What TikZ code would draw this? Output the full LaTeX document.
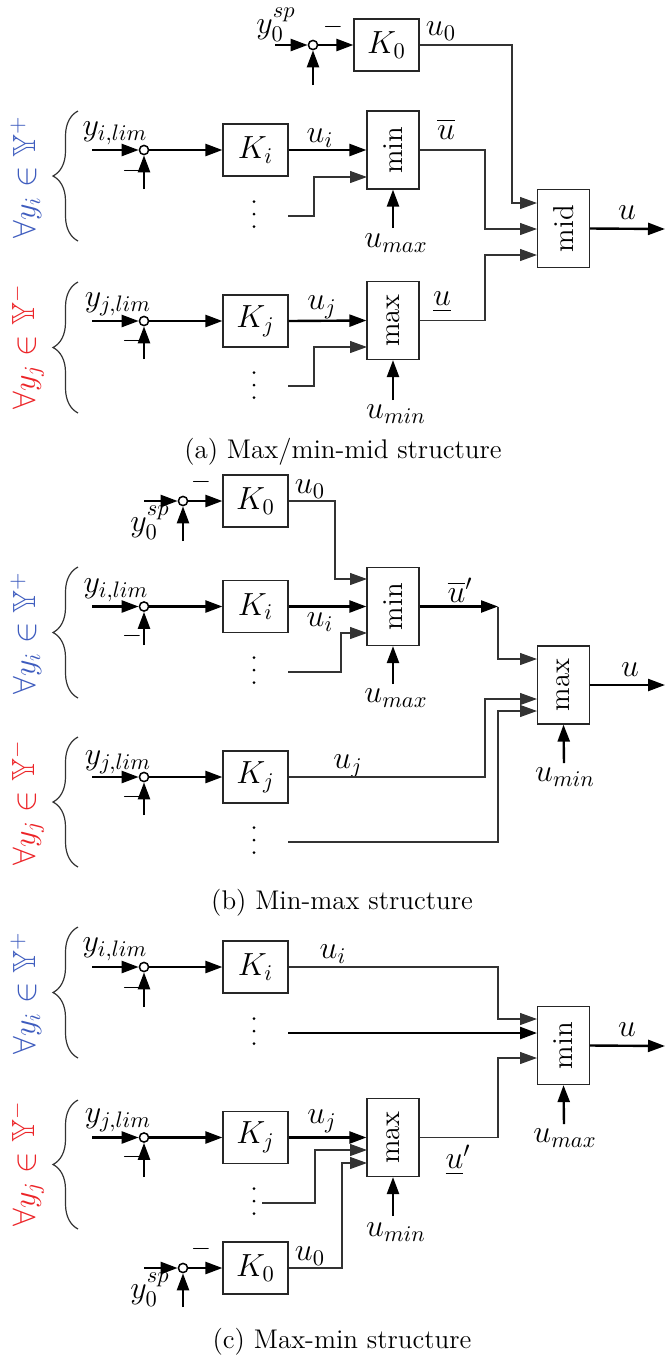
\RequirePackage{fix-cm}
\documentclass[tikz,border=0pt]{standalone}
\usepackage{amssymb}
\usepackage{graphicx}
\usetikzlibrary{arrows.meta,decorations.pathreplacing}
\definecolor{myblue}{RGB}{62,92,190}
\definecolor{myred}{RGB}{236,36,40}
\newcommand\threedots[2]{\foreach \dy in {-12.5,0,12.5}{\fill (#1,#2+\dy) circle[radius=0.75pt];}}
\newcommand\rtext[1]{\rotatebox{90}{\fontsize{14.4}{17}\selectfont #1}}
\begin{document}
\begin{tikzpicture}[x=0.5pt,y=-0.5pt,
 blk/.style={draw=black!85, line width=0.6pt, inner sep=0pt, font=\fontsize{16}{19}\selectfont},
 kbox/.style={blk, minimum width=32.5pt, minimum height=26pt},
 sbox/.style={blk, minimum width=26pt, minimum height=39pt},
 sumj/.style={circle, draw, line width=0.75pt, minimum size=4.6pt, inner sep=0pt},
 thk/.style={line width=1.2pt},
 thn/.style={line width=0.6pt, draw=black!80},
 arr/.style={-{Triangle[length=8.5pt,width=6pt]}},
 lbl/.style={font=\fontsize{16}{19}\selectfont, inner sep=0pt},
 mns/.style={font=\fontsize{13}{15}\selectfont, inner sep=0pt},
 capt/.style={font=\fontsize{13.5}{16}\selectfont, inner sep=0pt},
 brc/.style={thn, decorate, decoration={brace, amplitude=12.5pt}},
 setlbl/.style={font=\fontsize{16}{19}\selectfont, inner sep=0pt, rotate=90}
]
\useasboundingbox (0,0) rectangle (665,1356);

%% ================= (a) =================
% K0 branch
\node[kbox] (K0a) at (386.5,45) {$K_0$};
\node[sumj] (s0a) at (313,45) {};
\coordinate (s0ain) at (275,45);
\coordinate (s0abot) at (313,85);
\draw[thk,arr] (s0ain) -- (s0a.west);
\draw[thk,arr] (s0abot) -- (s0a.south);
\draw[thk,arr] (s0a.east) -- (K0a.west);
\node[lbl] (y0a) at (276,25) {$y_0^{sp}$};
\node[mns] (m0a) at (333,27) {$-$};
\node[lbl] (u0a) at (441,31) {$u_0$};
% i branch
\node[sbox] (mina) at (393,150) {\rtext{min}};
\node[kbox] (Kia) at (255.5,150) {$K_i$};
\node[sumj] (sia) at (144,150) {};
\coordinate (siain) at (92,150);
\coordinate (siabot) at (144,189);
\draw[thk,arr] (siain) -- (sia.west);
\draw[thk,arr] (siabot) -- (sia.south);
\draw[thk,arr] (sia.east) -- (Kia.west);
\draw[thk,arr] (Kia.east) -- (mina.west);
\node[lbl] (yia) at (115,133) {$y_{i,lim}$};
\node[mns] (mia) at (132,171) {$-$};
\node[lbl] (uia) at (320,138) {$u_i$};
\threedots{254}{214}
\coordinate (dia) at (288,216);
\coordinate (mina2) at (367,177);
\draw[thn,arr] (dia) -| (314,177) -- (mina2);
\coordinate (umaxa) at (393,228);
\draw[thk,arr] (umaxa) -- (mina.south);
\node[lbl] (umaxla) at (396,243) {$u_{max}$};
% mid
\node[sbox] (mida) at (563.5,228.5) {\rtext{mid}};
\coordinate (mida1) at (537,203);
\coordinate (mida2) at (537,229);
\coordinate (mida3) at (537,255);
\draw[thn,arr] (K0a.east) -| (512,203) -- (mida1);
\draw[thn,arr] (mina.east) -| (485,229) -- (mida2);
\node[lbl] (ubara) at (446,129) {$\overline{u}$};
\coordinate (outa) at (665,229);
\draw[thk,arr] (mida.east) -- (outa);
\node[lbl] (ua) at (627,213) {$u$};
% j branch
\node[sbox] (maxa) at (393,320.5) {\rtext{max}};
\node[kbox] (Kja) at (255.5,321) {$K_j$};
\node[sumj] (sja) at (144,321) {};
\coordinate (sjain) at (92,321);
\coordinate (sjabot) at (144,359);
\draw[thk,arr] (sjain) -- (sja.west);
\draw[thk,arr] (sjabot) -- (sja.south);
\draw[thk,arr] (sja.east) -- (Kja.west);
\draw[thk,arr] (Kja.east) -- (maxa.west);
\node[lbl] (yja) at (118,304) {$y_{j,lim}$};
\node[mns] (mja) at (132,341) {$-$};
\node[lbl] (uja) at (322,307) {$u_j$};
\threedots{254}{385}
\coordinate (dja) at (288,386);
\coordinate (maxa2) at (367,347);
\draw[thn,arr] (dja) -| (314,347) -- (maxa2);
\coordinate (umina) at (393,400);
\draw[thk,arr] (umina) -- (maxa.south);
\node[lbl] (uminla) at (396,414) {$u_{min}$};
\draw[thn,arr] (maxa.east) -| (485,255) -- (mida3);
\node[lbl] (ulowa) at (442,302) {$\underline{u}$};
% braces
\draw[brc] (78,241) -- (78,111);
\draw[brc] (78,413) -- (78,282);
\node[setlbl, text=myblue] (seta1) at (26,177) {$\forall y_i\in\mathbb{Y}^{+}$};
\node[setlbl, text=myred] (seta2) at (27,347) {$\forall y_j\in\mathbb{Y}^{-}$};
\node[capt] (capa) at (343,452) {(a) Max/min-mid structure};

%% ================= (b) =================
\node[kbox] (K0b) at (255.5,501) {$K_0$};
\node[sumj] (s0b) at (183,501) {};
\coordinate (s0bin) at (144,501);
\coordinate (s0bbot) at (183,541);
\draw[thk,arr] (s0bin) -- (s0b.west);
\draw[thk,arr] (s0bbot) -- (s0b.south);
\draw[thk,arr] (s0b.east) -- (K0b.west);
\node[mns] (m0b) at (201,482) {$-$};
\node[lbl] (y0b) at (150,523) {$y_0^{sp}$};
\node[lbl] (u0b) at (310,489) {$u_0$};
\node[sbox] (minb) at (393,606.5) {\rtext{min}};
\coordinate (minb1) at (367,579);
\coordinate (minb3) at (367,633);
\draw[thn,arr] (K0b.east) -| (335,579) -- (minb1);
\node[kbox] (Kib) at (255.5,606.5) {$K_i$};
\node[sumj] (sib) at (144,606.5) {};
\coordinate (sibin) at (92,606.5);
\coordinate (sibbot) at (144,645);
\draw[thk,arr] (sibin) -- (sib.west);
\draw[thk,arr] (sibbot) -- (sib.south);
\draw[thk,arr] (sib.east) -- (Kib.west);
\draw[thk,arr] (Kib.east) -- (minb.west);
\node[lbl] (yib) at (116,590) {$y_{i,lim}$};
\node[mns] (mib) at (132,636) {$-$};
\node[lbl] (uib) at (320,622) {$u_i$};
\threedots{254}{670}
\coordinate (dib) at (288,672);
\draw[thn,arr] (dib) -| (341,633) -- (minb3);
\coordinate (umaxb) at (393,684);
\draw[thk,arr] (umaxb) -- (minb.south);
\node[lbl] (umaxlb) at (396,698) {$u_{max}$};
\coordinate (cb) at (498,606.5);
\draw[thk,arr] (minb.east) -- (cb);
\node[lbl] (ubarb) at (460,590) {$\overline{u}'$};
\node[sbox] (maxb) at (563.5,685) {\rtext{max}};
\coordinate (maxb1) at (537,659);
\coordinate (maxb2) at (537,699);
\coordinate (maxb3) at (537,711);
\draw[thn,arr] (cb) |- (maxb1);
\node[kbox] (Kjb) at (255.5,777) {$K_j$};
\node[sumj] (sjb) at (144,777) {};
\coordinate (sjbin) at (92,777);
\coordinate (sjbbot) at (144,815);
\draw[thk,arr] (sjbin) -- (sjb.west);
\draw[thk,arr] (sjbbot) -- (sjb.south);
\draw[thk,arr] (sjb.east) -- (Kjb.west);
\node[lbl] (yjb) at (118,762) {$y_{j,lim}$};
\node[mns] (mjb) at (132,797) {$-$};
\node[lbl] (ujb) at (348,766) {$u_j$};
\draw[thn,arr] (Kjb.east) -| (485,699) -- (maxb2);
\threedots{254}{840}
\coordinate (djb) at (288,842);
\draw[thn,arr] (djb) -| (498,711) -- (maxb3);
\coordinate (uminb) at (564,763);
\draw[thk,arr] (uminb) -- (maxb.south);
\node[lbl] (uminlb) at (565,777) {$u_{min}$};
\coordinate (outb) at (665,685);
\draw[thk,arr] (maxb.east) -- (outb);
\node[lbl] (ub) at (630,670) {$u$};
\draw[brc] (78,698) -- (78,567);
\draw[brc] (78,867) -- (78,737);
\node[setlbl, text=myblue] (setb1) at (26,633) {$\forall y_i\in\mathbb{Y}^{+}$};
\node[setlbl, text=myred] (setb2) at (27,803) {$\forall y_j\in\mathbb{Y}^{-}$};
\node[capt] (capb) at (342,903) {(b) Min-max structure};

%% ================= (c) =================
\node[kbox] (Kic) at (255.5,967) {$K_i$};
\node[sumj] (sic) at (144,967) {};
\coordinate (sicin) at (92,967);
\coordinate (sicbot) at (144,1007);
\draw[thk,arr] (sicin) -- (sic.west);
\draw[thk,arr] (sicbot) -- (sic.south);
\draw[thk,arr] (sic.east) -- (Kic.west);
\node[lbl] (yic) at (115,949) {$y_{i,lim}$};
\node[mns] (mic) at (132,988) {$-$};
\node[lbl] (uic) at (333,954) {$u_i$};
\node[sbox] (minc) at (563.5,1045.5) {\rtext{min}};
\coordinate (minc1) at (537,1019);
\coordinate (minc2) at (537,1033);
\coordinate (minc3) at (537,1058);
\draw[thn,arr] (Kic.east) -| (498,1019) -- (minc1);
\threedots{254}{1031}
\coordinate (dic) at (288,1033);
\draw[thk,arr] (dic) -- (minc2);
\coordinate (outc) at (665,1046);
\draw[thk,arr] (minc.east) -- (outc);
\node[lbl] (uc) at (627,1030) {$u$};
\coordinate (umaxc) at (564,1124);
\draw[thk,arr] (umaxc) -- (minc.south);
\node[lbl] (umaxlc) at (565,1138) {$u_{max}$};
\node[sbox] (maxc) at (393,1137.5) {\rtext{max}};
\coordinate (maxc2) at (367,1150);
\coordinate (maxc3) at (367,1163);
\node[kbox] (Kjc) at (255.5,1137.5) {$K_j$};
\node[sumj] (sjc) at (144,1137.5) {};
\coordinate (sjcin) at (92,1137.5);
\coordinate (sjcbot) at (144,1177);
\draw[thk,arr] (sjcin) -- (sjc.west);
\draw[thk,arr] (sjcbot) -- (sjc.south);
\draw[thk,arr] (sjc.east) -- (Kjc.west);
\draw[thk,arr] (Kjc.east) -- (maxc.west);
\node[lbl] (yjc) at (118,1120) {$y_{j,lim}$};
\node[mns] (mjc) at (132,1157) {$-$};
\node[lbl] (ujc) at (322,1121) {$u_j$};
\threedots{254}{1201}
\coordinate (djc) at (262,1203);
\draw[thn,arr] (djc) -| (315,1150) -- (maxc2);
\node[kbox] (K0c) at (255.5,1268) {$K_0$};
\node[sumj] (s0c) at (183,1268) {};
\coordinate (s0cin) at (144,1268);
\coordinate (s0cbot) at (183,1307);
\draw[thk,arr] (s0cin) -- (s0c.west);
\draw[thk,arr] (s0cbot) -- (s0c.south);
\draw[thk,arr] (s0c.east) -- (K0c.west);
\node[mns] (m0c) at (201,1249) {$-$};
\node[lbl] (y0c) at (150,1290) {$y_0^{sp}$};
\node[lbl] (u0c) at (310,1256) {$u_0$};
\draw[thn,arr] (K0c.east) -| (342,1163) -- (maxc3);
\coordinate (uminc) at (393,1216);
\draw[thk,arr] (uminc) -- (maxc.south);
\node[lbl] (uminlc) at (396,1232) {$u_{min}$};
\draw[thn,arr] (maxc.east) -| (498,1058) -- (minc3);
\node[lbl] (ulowc) at (458,1160) {$\underline{u}'$};
\draw[brc] (78,1058) -- (78,927);
\draw[brc] (78,1229) -- (78,1100);
\node[setlbl, text=myblue] (setc1) at (26,993) {$\forall y_i\in\mathbb{Y}^{+}$};
\node[setlbl, text=myred] (setc2) at (27,1164) {$\forall y_j\in\mathbb{Y}^{-}$};
\node[capt] (capc) at (342,1342) {(c) Max-min structure};
\end{tikzpicture}
\end{document}
